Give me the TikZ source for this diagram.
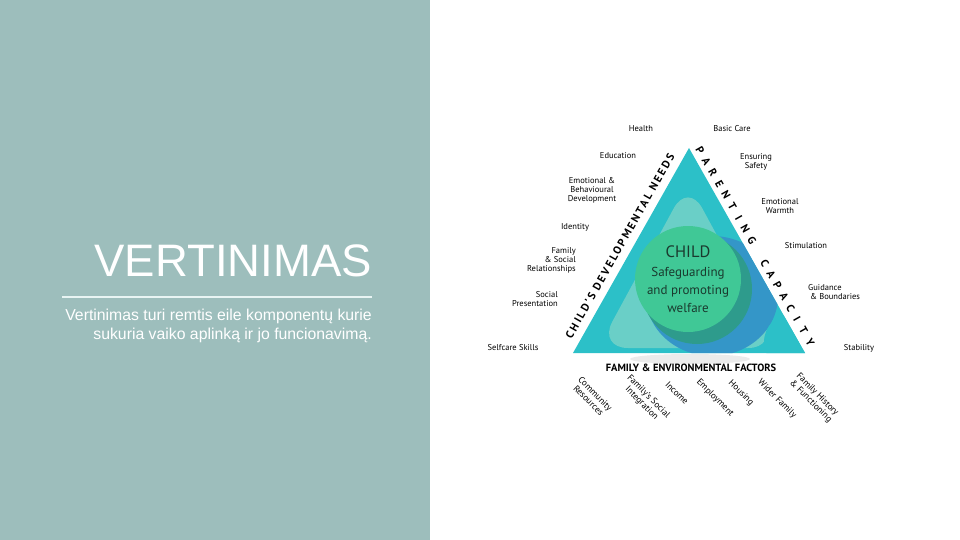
\documentclass[tikz,border=0pt]{standalone}
\usepackage{fontspec}
\setmainfont{Liberation Sans}
\newfontfamily\diagfont{PT Sans}
\usepackage{xcolor}
\usetikzlibrary{positioning, calc}

\definecolor{panel}{RGB}{157,190,188}
\definecolor{rulecol}{RGB}{232,244,243}
\definecolor{tri}{RGB}{44,192,200}
\definecolor{trilight}{RGB}{106,207,199}
\definecolor{triblue}{RGB}{52,150,200}
\definecolor{childshade}{RGB}{46,155,140}
\definecolor{childgreen}{RGB}{64,200,150}
\definecolor{childtext}{RGB}{26,58,46}

\begin{document}
\begin{tikzpicture}[x=1pt, y=-1pt,
    lbl/.style={font=\diagfont\fontsize{8.5}{9}\selectfont, align=center, inner sep=0pt},
    rlbl/.style={lbl, align=right},
    llbl/.style={lbl, align=left},
    factor/.style={lbl, rotate=-45, font=\diagfont\fontsize{9}{9.5}\selectfont},
    edgelbl/.style={font=\diagfont\bfseries\fontsize{11}{11}\selectfont, inner sep=0pt}]
    \useasboundingbox (0,0) rectangle (960,540);
    \fill[white] (0,0) rectangle (960,540);
    \fill[panel] (0,0) rectangle (430,540);

    % Left panel
    \node[anchor=base east, text=white, inner sep=0pt, font=\fontsize{45.5}{46}\selectfont]
          (title) at (372,276) {VERTINIMAS};
    \coordinate (ruleL) at (62,296.5);
    \coordinate (ruleR) at (372,296.5);
    \draw[rulecol, line width=2pt] (ruleL) -- (ruleR);
    \node[anchor=north east, align=right, text=white, inner sep=0pt, font=\fontsize{15.8}{19}\selectfont]
          (subtitle) at (372,309) {Vertinimas turi remtis eile komponentų kurie\\sukuria vaiko aplinką ir jo funcionavimą.};

    % Triangle
    \coordinate (apex)  at (689,148);
    \coordinate (baseL) at (573,353);
    \coordinate (baseR) at (805,353);
    \fill[black, opacity=0.08] (690,359) ellipse[x radius=60, y radius=5];
    \fill[tri] (apex) -- (baseL) -- (baseR) -- cycle;
    \begin{scope}
        \clip (apex) -- (baseL) -- (baseR) -- cycle;
        \fill[trilight, rounded corners=30pt] (688,182) -- (598,348) -- (778,348) -- cycle;
        \fill[triblue] (712,296) ellipse[x radius=66, y radius=60];
        \fill[tri] (792,342) circle[radius=28];
        \fill[childshade] (697,289) circle[radius=55];
    \end{scope}
    \node[circle, fill=childgreen, minimum size=106pt, inner sep=0pt] (child) at (688,279) {};
    \node[text=childtext, font=\diagfont\fontsize{16.5}{17}\selectfont] (childname) at (688,252) {CHILD};
    \node[text=childtext, align=center, font=\diagfont\fontsize{13}{18}\selectfont]
          (welfare) at (688,290) {Safeguarding\\and promoting\\welfare};

    % Side titles
    \node[edgelbl, rotate=60.5, font=\diagfont\bfseries\fontsize{11}{11}\selectfont\addfontfeature{LetterSpace=20}]
          (needs) at (620,246) {CHILD’S DEVELOPMENTAL NEEDS};
    \coordinate (capstart) at (700,150);
    \coordinate (capend)   at (810,342);
    \foreach \ch [count=\i from 0] in {P,A,R,E,N,T,I,N,G,{},C,A,P,A,C,I,T,Y}
        \node[edgelbl, rotate=-60.5] (cap\i) at ($(capstart)!{\i/17}!(capend)$) {\ch};
    \node[edgelbl, font=\diagfont\bfseries\fontsize{10.5}{11}\selectfont]
          (factors) at (691,368) {FAMILY \& ENVIRONMENTAL FACTORS};

    % Needs
    \node[lbl] (health)    at (641,129) {Health};
    \node[lbl] (education) at (618,156) {Education};
    \node[lbl] (emotional) at (592,190) {Emotional \&\\Behavioural\\Development};
    \node[lbl] (identity)  at (575,227) {Identity};
    \node[rlbl, anchor=east] (relations)    at (576,260) {Family\\\& Social\\Relationships};
    \node[rlbl, anchor=east] (presentation) at (558,299) {Social\\Presentation};
    \node[lbl] (selfcare)  at (513,348) {Selfcare Skills};

    % Parenting
    \node[lbl] (basiccare)   at (732,129) {Basic Care};
    \node[lbl] (safety)      at (756,162) {Ensuring\\Safety};
    \node[lbl] (warmth)      at (780,206) {Emotional\\Warmth};
    \node[lbl] (stimulation) at (806,246) {Stimulation};
    \node[llbl, anchor=west] (guidance) at (808,292) {Guidance\\\hspace{2pt}\& Boundaries};
    \node[lbl] (stability)   at (859,348) {Stability};

    % Family factors
    \node[factor] (community)   at (592,397) {Community\\Resources};
    \node[factor] (integration) at (645,400) {Family’s Social\\Integration};
    \node[factor] (income)      at (677,393) {Income};
    \node[factor] (employment)  at (715,398) {Employment};
    \node[factor] (housing)     at (741,393) {Housing};
    \node[factor] (widerfamily) at (777,399) {Wider Family};
    \node[factor] (history)     at (814,398) {Family History\\\& Functioning};
\end{tikzpicture}
\end{document}
